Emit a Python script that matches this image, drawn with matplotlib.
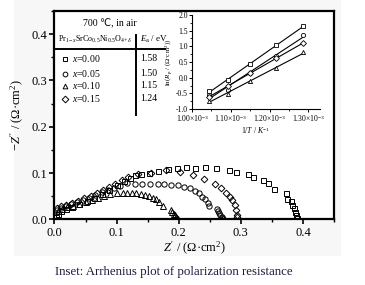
import numpy as np
import matplotlib
matplotlib.use("Agg")
import matplotlib.pyplot as plt
from matplotlib.ticker import MultipleLocator, FuncFormatter
from matplotlib.patches import Rectangle
from matplotlib.lines import Line2D

plt.rcParams["font.family"] = ["Liberation Serif", "DejaVu Serif"]
plt.rcParams["mathtext.fontset"] = "custom"
plt.rcParams["mathtext.rm"] = "Liberation Serif"
plt.rcParams["mathtext.it"] = "Liberation Serif:italic"
plt.rcParams["mathtext.bf"] = "Liberation Serif:bold"

# ----- Nyquist data (Z', -Z'') -----

sq_re = [0.003, 0.006, 0.010, 0.018, 0.028, 0.040, 0.052, 0.064, 0.076, 0.088, 0.100, 0.112,
         0.122, 0.129, 0.140, 0.152, 0.167, 0.183, 0.197, 0.212, 0.226, 0.242, 0.260, 0.281,
         0.2925, 0.311, 0.320, 0.335, 0.343, 0.354, 0.372, 0.375, 0.380, 0.383, 0.386, 0.388,
         0.389, 0.390]
sq_im = [0.005, 0.012, 0.018, 0.022, 0.027, 0.033, 0.040, 0.047, 0.055, 0.064, 0.074, 0.083,
         0.090, 0.095, 0.097, 0.100, 0.104, 0.108, 0.110, 0.112, 0.111, 0.112, 0.111, 0.1075,
         0.102, 0.097, 0.092, 0.0845, 0.0795, 0.0645, 0.056, 0.044, 0.040, 0.031, 0.024, 0.016,
         0.009, 0.003]

ci_re = [0.004, 0.010, 0.018, 0.027, 0.036, 0.046, 0.056, 0.066, 0.076, 0.086, 0.096, 0.106,
         0.1175, 0.129, 0.141, 0.153, 0.166, 0.176, 0.188, 0.199, 0.208, 0.2175, 0.2255, 0.232,
         0.237, 0.242, 0.247, 0.249,
         0.262, 0.263, 0.265, 0.267, 0.269, 0.270, 0.271]
ci_im = [0.020, 0.024, 0.028, 0.032, 0.037, 0.042, 0.047, 0.052, 0.058, 0.063, 0.068, 0.072,
         0.079, 0.077, 0.077, 0.077, 0.077, 0.076, 0.075, 0.074, 0.070, 0.067, 0.0615, 0.056,
         0.0486, 0.043, 0.036, 0.029,
         0.022, 0.018, 0.014, 0.010, 0.006, 0.003, 0.001]

tr_re = [0.005, 0.012, 0.020, 0.030, 0.040, 0.050, 0.060, 0.070, 0.080, 0.090, 0.100, 0.110,
         0.1175, 0.125, 0.132, 0.139, 0.145, 0.152, 0.158, 0.164, 0.169, 0.174,
         0.188, 0.190, 0.192, 0.194, 0.196, 0.198, 0.199]
tr_im = [0.018, 0.022, 0.026, 0.029, 0.033, 0.037, 0.042, 0.046, 0.050, 0.054, 0.056, 0.057,
         0.057, 0.057, 0.056, 0.054, 0.052, 0.050, 0.047, 0.043, 0.038, 0.028,
         0.020, 0.016, 0.012, 0.009, 0.006, 0.003, 0.001]

di_re = [0.004, 0.010, 0.018, 0.028, 0.038, 0.048, 0.058, 0.068, 0.078, 0.088, 0.098, 0.108,
         0.118, 0.135, 0.155, 0.180, 0.2015, 0.223, 0.2415, 0.258, 0.268, 0.276, 0.282, 0.286,
         0.290, 0.2925, 0.2935, 0.294]
di_im = [0.024, 0.028, 0.031, 0.035, 0.040, 0.045, 0.050, 0.056, 0.063, 0.070, 0.077, 0.085,
         0.092, 0.097, 0.100, 0.106, 0.102, 0.095, 0.086, 0.076, 0.067, 0.056, 0.0486, 0.0415,
         0.031, 0.020, 0.009, 0.004]

# ----- Arrhenius inset data -----

inv_t = [1.044e-3, 1.093e-3, 1.150e-3, 1.217e-3, 1.287e-3]
ln_sq = [-0.43, -0.08, 0.42, 1.04, 1.65]
ln_ci = [-0.56, -0.38, 0.15, 0.68, 1.37]
ln_tr = [-0.74, -0.52, -0.10, 0.30, 0.81]
ln_di = [-0.63, -0.25, 0.16, 0.62, 1.10]

comp_labels = ["0.00", "0.05", "0.10", "0.15"]
ea_values = ["1.58", "1.50", "1.15", "1.24"]
markers = ["s", "o", "^", "D"]

fig = plt.figure(figsize=(3.65, 2.85), dpi=100)
fig.patches.append(Rectangle((14 / 365, 30 / 285), 326 / 365, 255 / 285,
                             transform=fig.transFigure, color="#f7f7f7", zorder=-10))

ax = fig.add_axes([0.1493, 0.2305, 0.7657, 0.7309])
mk = dict(linestyle="none", mfc="none", mec="black", mew=0.7)
ax.plot(sq_re, sq_im, marker="s", ms=3.6, **mk)
ax.plot(ci_re, ci_im, marker="o", ms=3.8, **mk)
ax.plot(tr_re, tr_im, marker="^", ms=4.0, **mk)
ax.plot(di_re, di_im, marker="D", ms=3.4, **mk)

ax.set_xlim(0, 0.45)
ax.set_ylim(0, 0.45)
ax.xaxis.set_major_locator(MultipleLocator(0.1))
ax.yaxis.set_major_locator(MultipleLocator(0.1))
ax.xaxis.set_minor_locator(MultipleLocator(0.05))
ax.yaxis.set_minor_locator(MultipleLocator(0.05))
ax.xaxis.set_major_formatter(FuncFormatter(lambda v, p: f"{v:.1f}" if v < 0.41 else ""))
ax.yaxis.set_major_formatter(FuncFormatter(lambda v, p: f"{v:.1f}" if v < 0.41 else ""))
ax.tick_params(which="major", direction="out", length=3.5, width=1.2, labelsize=9, pad=2)
ax.tick_params(which="minor", direction="out", length=2, width=1)
for s in ax.spines.values():
    s.set_linewidth(1.6)
ax.set_xlabel(r"$Z'$ / ($\Omega$·cm$^2$)", fontsize=9, labelpad=1)
ax.set_ylabel(r"$-Z''$ / ($\Omega$·cm$^2$)", fontsize=9, labelpad=4)

# ----- Table legend -----

ax.text(0.199, 0.942, "700 ℃, in air", transform=ax.transAxes, ha="center", va="center",
        fontsize=7, family=["Liberation Serif", "DejaVu Sans"])
ax.text(0.0125, 0.866, r"Pr$_{1-x}$SrCo$_{0.5}$Ni$_{0.5}$O$_{4+\delta}$", transform=ax.transAxes,
        ha="left", va="center", fontsize=5.8)
ax.text(0.306, 0.866, r"$E_\mathrm{a}$ / eV", transform=ax.transAxes, ha="left", va="center",
        fontsize=6.5)
ax.add_line(Line2D([0, 0.395], [0.817, 0.817], transform=ax.transAxes, color="black", lw=1.4))
ax.add_line(Line2D([0.2916, 0.2916], [0.5, 0.885], transform=ax.transAxes, color="black", lw=1.4))
row_y = [0.77, 0.698, 0.64, 0.578]
for m, lab, ea, yy in zip(markers, comp_labels, ea_values, row_y):
    ax.plot([0.0376], [yy], marker=m, ms=3.4, transform=ax.transAxes, **mk)
    ax.text(0.063, yy, f"$x$={lab}", transform=ax.transAxes, ha="left", va="center", fontsize=7)
    ax.text(0.306, yy, ea, transform=ax.transAxes, ha="left", va="center", fontsize=7)

# ----- Inset -----

ins = fig.add_axes([0.526, 0.6175, 0.351, 0.33])
ins.patch.set_alpha(0)
for ys, m in zip([ln_sq, ln_ci, ln_tr, ln_di], markers):
    k, b = np.polyfit(inv_t, ys, 1)
    xx = np.array([inv_t[0], inv_t[-1]])
    ins.plot(xx, k * xx + b, color="black", lw=0.8)
    ins.plot(inv_t, ys, marker=m, ms=3.0, linestyle="none", mfc="white", mec="black", mew=0.6)
ins.set_xlim(1.0e-3, 1.33e-3)
ins.set_ylim(-1.0, 2.0)
ins.xaxis.set_major_locator(MultipleLocator(0.1e-3))
ins.xaxis.set_minor_locator(MultipleLocator(0.05e-3))
ins.yaxis.set_major_locator(MultipleLocator(0.5))
ins.yaxis.set_minor_locator(MultipleLocator(0.25))
ins.xaxis.set_major_formatter(FuncFormatter(lambda v, p: f"{v * 1e3:.2f}×10$^{{-3}}$"))
ins.yaxis.set_major_formatter(FuncFormatter(lambda v, p: f"{v:.1f}"))
ins.spines["top"].set_visible(False)
ins.spines["right"].set_visible(False)
for s in ["left", "bottom"]:
    ins.spines[s].set_linewidth(0.8)
ins.tick_params(which="major", direction="out", length=2, width=0.7, labelsize=5.5, pad=1)
ins.tick_params(which="minor", direction="out", length=1.2, width=0.6)
ins.set_xlabel(r"1/$T$ / $K^{-1}$", fontsize=5.5, labelpad=0.5)
ins.set_ylabel(r"ln($R_\mathrm{p}$ / ($\Omega$·cm$^2$))", fontsize=5, labelpad=1)

fig.text(173.5 / 365, 1 - 272 / 285, "Inset: Arrhenius plot of polarization resistance",
         ha="center", va="center", fontsize=9.3, color="#1c1c3c")

fig.savefig("out.png", dpi=100)
